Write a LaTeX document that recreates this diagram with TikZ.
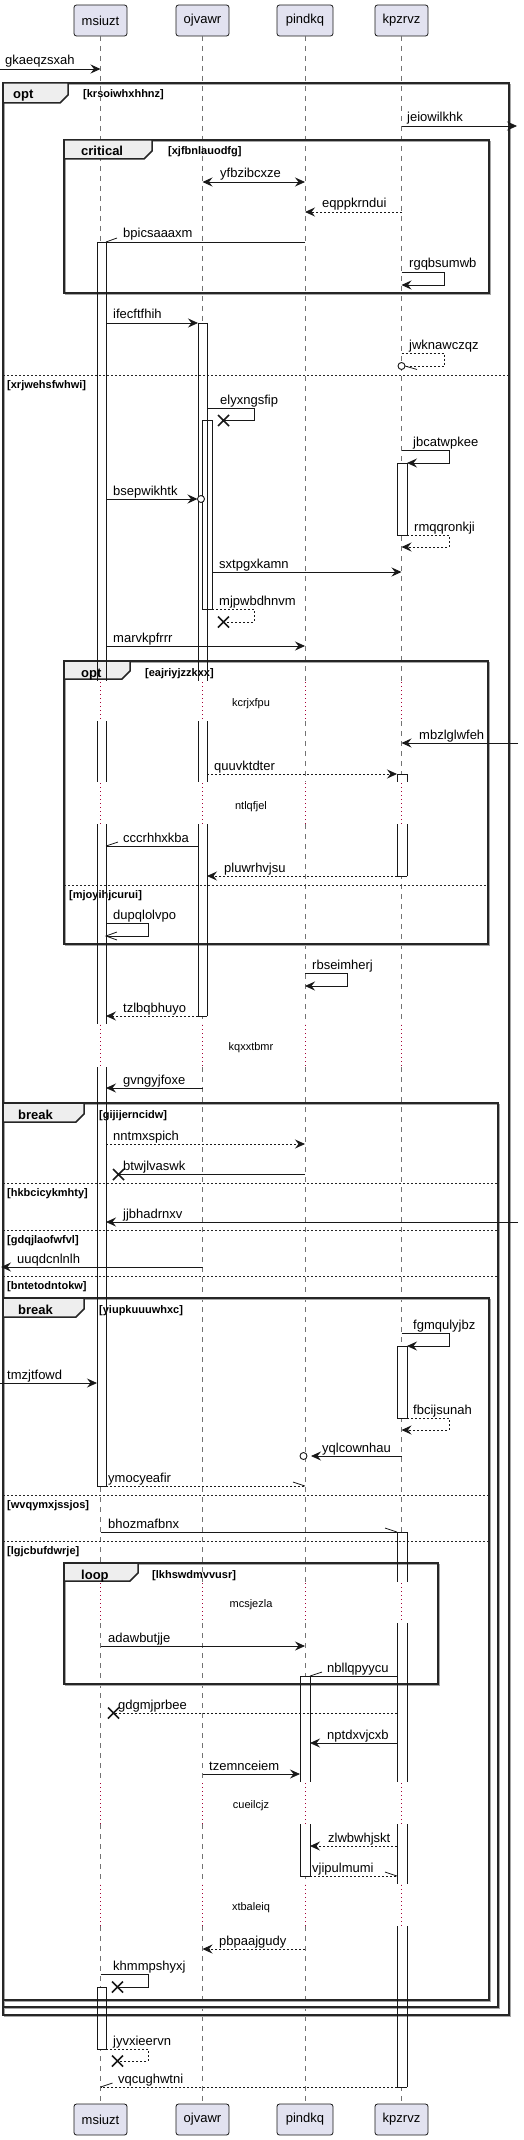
\documentclass[tikz,border=0pt]{standalone}
\usepackage{fontspec}
\setmainfont{Liberation Sans}
\usetikzlibrary{arrows.meta,calc}
\definecolor{lc}{HTML}{181818}
\definecolor{pfill}{HTML}{E2E2F0}
\definecolor{tabf}{HTML}{EEEEEE}
\definecolor{dlyc}{HTML}{A80036}
\newcommand\msgfont{\fontsize{13}{15}\selectfont}
\newcommand\grdfont{\fontsize{11}{13}\selectfont\bfseries}
\newcommand\tabfont{\fontsize{13}{15}\selectfont\bfseries}
\newcommand\dlyfont{\fontsize{11}{13}\selectfont}
\tikzset{
 ln/.style={draw=lc,line width=0.8pt},
 sol/.style={ln,-{Stealth[length=10pt,width=9pt,inset=3.5pt]}},
 das/.style={sol,dash pattern=on 2pt off 2pt},
 bi/.style={ln,{Stealth[length=10pt,width=9pt,inset=3.5pt]}-{Stealth[length=10pt,width=9pt,inset=3.5pt]}},
 pl/.style={ln},
 pld/.style={ln,dash pattern=on 2pt off 2pt},
 lbl/.style={anchor=base west,inner sep=0pt,font=\msgfont,text=black},
 part/.style={draw=lc,fill=pfill,rounded corners=2.5pt,line width=0.8pt,minimum height=31pt,inner sep=0pt,font=\msgfont},
 life/.style={draw=black!55,line width=0.6pt,dash pattern=on 5pt off 5pt},
 dly/.style={draw=dlyc,line width=0.8pt,dash pattern=on 1pt off 3pt},
 frameln/.style={draw=black!85,line width=1.5pt},
 frameshd/.style={draw=black!35,line width=1pt},
 sepln/.style={draw=black!85,line width=0.7pt,dash pattern=on 2pt off 2pt},
 xst/.style={draw=lc,line width=1.6pt},
 circ/.style={circle,draw=lc,fill=white,line width=0.9pt,minimum size=7pt,inner sep=0pt},
 tabl/.style={anchor=base west,inner sep=0pt,font=\tabfont},
 grd/.style={anchor=base west,inner sep=0pt,font=\grdfont},
 dlyt/.style={anchor=base,inner sep=0pt,font=\dlyfont},
}
% activation passes
\newcommand\actfill[6]{\fill[white] (#1,#3) rectangle (#2,#4);}
\newcommand\actlines[6]{\draw[ln] (#1,#3) -- (#1,#4) (#2,#3) -- (#2,#4);%
 \ifnum#5=1\relax\draw[ln] (#1,#3) -- (#2,#3);\fi
 \ifnum#6=1\relax\draw[ln] (#1,#4) -- (#2,#4);\fi}
\newcommand\allacts{%
 \A{97}{106}{242}{681}{1}{0}
 \A{97}{106}{721}{782}{0}{0}
 \A{97}{106}{824}{1024}{0}{0}
 \A{97}{106}{1067}{1486}{0}{1}
 \A{198}{207}{323}{681}{1}{0}
 \A{198}{207}{721}{782}{0}{0}
 \A{198}{207}{824}{1016}{0}{1}
 \A{202}{212}{420}{609}{1}{1}
 \A{397}{407}{463}{535}{1}{1}
 \A{397}{407}{774}{782}{1}{0}
 \A{397}{407}{824}{876}{0}{1}
 \A{397}{407}{1346}{1418}{1}{1}
 \A{397}{407}{1532}{1582}{1}{0}
 \A{397}{407}{1623}{1782}{0}{0}
 \A{397}{407}{1824}{1884}{0}{0}
 \A{397}{407}{1926}{2087}{0}{1}
 \A{300}{310}{1676}{1782}{1}{0}
 \A{300}{310}{1824}{1876}{0}{1}
 \A{97}{106}{1987}{2049}{1}{1}
}
\newcommand\frm[5]{%
 \coordinate (#1nw) at (#2,#3); \coordinate (#1se) at (#4,#5);
 \draw[frameshd] ($(#1nw)+(1.5,1.5)$) rectangle ($(#1se)+(1.5,1.5)$);
 \draw[frameln] (#1nw) rectangle (#1se);}
\newcommand\tabx[9]{%
 \draw[frameln,fill=tabf] (#2,#3) -- (#4,#3) -- (#4,#5-8) -- (#4-8,#5) -- (#2,#5) -- cycle;
 \node[tabl] (#1l) at (#6,#3+16) {#7};
 \node[grd] (#1g) at (#8,#3+15) {#9};}
\newcommand\sepx[6]{%
 \coordinate (#1a) at (#2,#4); \coordinate (#1b) at (#3,#4);
 \draw[sepln] (#1a) -- (#1b);
 \node[grd] (#1t) at (#5,#4+13) {#6};}
\newcommand\msg[7]{%
 \coordinate (#1a) at (#2,#4); \coordinate (#1b) at (#3,#4);
 \draw[#5] (#1a) -- (#1b);
 \node[lbl] (#1t) at (#6,#4-4) {#7};}
\newcommand\selfmsg[9]{%
 \coordinate (#1a) at (#2,#4); \coordinate (#1c) at (#6,#5);
 \draw[#7] (#1a) -- (#3,#4) -- (#3,#5) -- (#1c);
 \node[lbl] (#1t) at (#8,#4-4) {#9};}
\newcommand\xmark[3]{\coordinate (#1) at (#2,#3);
 \draw[xst] ($(#1)+(-5.5,-5.5)$) -- ($(#1)+(5.5,5.5)$) ($(#1)+(-5.5,5.5)$) -- ($(#1)+(5.5,-5.5)$);}

\begin{document}
\begin{tikzpicture}[x=1pt,y=-1pt]
\useasboundingbox (0,0) rectangle (523,2140);

% participants
\node[part,minimum width=53pt] (pm) at (100.5,20.5) {msiuzt};
\node[part,minimum width=53pt] (po) at (202.5,20.5) {ojvawr};
\node[part,minimum width=56pt] (pp) at (305,20.5) {pindkq};
\node[part,minimum width=53pt] (pk) at (401.5,20.5) {kpzrvz};
\node[part,minimum width=53pt] (pm2) at (100.5,2119.5) {msiuzt};
\node[part,minimum width=53pt] (po2) at (202.5,2119.5) {ojvawr};
\node[part,minimum width=56pt] (pp2) at (305,2119.5) {pindkq};
\node[part,minimum width=53pt] (pk2) at (401.5,2119.5) {kpzrvz};

% lifelines
\foreach \x in {100.5,202.5,305,401.5}{
 \foreach \a/\b in {36/681,721/782,824/1024,1067/1582,1623/1782,1824/1884,1926/2104}
  \draw[life] (\x,\a) -- (\x,\b);
 \foreach \a/\b in {682/721,783/824,1025/1067,1583/1623,1783/1824,1885/1926}
  \draw[dly] (\x,\a) -- (\x,\b);
}

% activation fills
\let\A\actfill \allacts

% frames
\frm{fa}{3}{83}{509}{2015}
\tabx{fa}{3}{83}{68}{103}{13}{opt}{83}{[krsoiwhxhhnz]}
\sepx{sa}{3}{509}{375}{7}{[xrjwehsfwhwi]}

\frm{fb}{64}{140}{489}{293}
\tabx{fb}{64}{140}{152}{159}{81}{critical}{168}{[xjfbnlauodfg]}

\frm{fc}{64}{661}{488}{944}
\tabx{fc}{64}{661}{130}{679}{81}{opt}{145}{[eajriyjzzkxx]}
\sepx{sc}{64}{488}{885}{69}{[mjoyihjcurui]}

\frm{fd}{3}{1103}{498}{2007}
\tabx{fd}{3}{1103}{84}{1122}{18}{break}{99}{[gijijerncidw]}
\sepx{sd1}{3}{498}{1183}{7}{[hkbcicykmhty]}
\sepx{sd2}{3}{498}{1230}{7}{[gdqjlaofwfvl]}
\sepx{sd3}{3}{498}{1276}{7}{[bntetodntokw]}

\frm{fe}{3}{1298}{489}{2000}
\tabx{fe}{3}{1298}{84}{1317}{18}{break}{99}{[yiupkuuuwhxc]}
\sepx{se1}{3}{488}{1495}{7}{[wvqymxjssjos]}
\sepx{se2}{3}{488}{1541}{7}{[lgjcbufdwrje]}

\frm{ff}{64}{1563}{438}{1684}
\tabx{ff}{64}{1563}{138}{1581}{81}{loop}{152}{[lkhswdmvvusr]}

% activation outlines
\let\A\actlines \allacts

% messages
\msg{m1}{0}{100.5}{69}{sol}{5}{gkaeqzsxah}
\msg{m2}{401.5}{517}{126}{sol}{407}{jeiowilkhk}
\msg{m3}{202.5}{305}{182}{bi}{220}{yfbzibcxze}
\msg{m4}{401.5}{305}{212}{das}{322}{eqppkrndui}
\msg{m5}{305}{106}{242}{pl}{123}{bpicsaaaxm}
\draw[ln] (m5b) -- ++(11,-4);
\selfmsg{m6}{401.5}{444}{272}{285}{401.5}{sol}{409}{rgqbsumwb}
\msg{m7}{106}{198}{323}{sol}{113}{ifecftfhih}
\selfmsg{m8}{401.5}{444}{353}{366}{405}{pld}{409}{jwknawczqz}
\node[circ] (m8o) at (401.5,366) {};
\draw[ln] (m8c) -- ++(12,3.5);
\selfmsg{m9}{207}{254}{408}{420.5}{223.5}{pl}{220}{elyxngsfip}
\xmark{m9x}{223.5}{420.5}
\selfmsg{m10}{401.5}{449}{450}{463}{407}{sol}{413}{jbcatwpkee}
\msg{m11}{106}{197.5}{499}{sol}{113}{bsepwikhtk}
\node[circ] (m11o) at (201,499) {};
\selfmsg{m12}{407}{449}{535}{547}{401.5}{das}{414}{rmqqronkji}
\msg{m13}{212}{401.5}{572}{sol}{219}{sxtpgxkamn}
\selfmsg{m14}{212}{254}{609}{622}{223.5}{pld}{219}{mjpwbdhnvm}
\xmark{m14x}{223.5}{622}
\msg{m15}{106}{305}{646}{sol}{113}{marvkpfrrr}
\msg{m16}{518}{401.5}{743}{sol}{419}{mbzlglwfeh}
\msg{m17}{207}{397}{774}{das}{214}{quuvktdter}
\msg{m18}{198}{106}{846}{pl}{123}{cccrhhxkba}
\draw[ln] (m18b) -- ++(12,-4);
\msg{m19}{397}{207}{876}{das}{224}{pluwrhvjsu}
\selfmsg{m20}{106}{148}{923}{936}{106}{pl}{113}{dupqlolvpo}
\draw[ln] ($(m20c)+(11,-4)$) -- (m20c) -- ($(m20c)+(11,4)$);
\selfmsg{m21}{305}{347}{973}{986}{305}{sol}{312}{rbseimherj}
\msg{m22}{198}{106}{1016}{das}{123}{tzlbqbhuyo}
\msg{m23}{202.5}{106}{1088}{sol}{123}{gvngyjfoxe}
\msg{m24}{106}{305}{1144}{das}{113}{nntmxspich}
\msg{m25}{305}{118.5}{1174.5}{pl}{123}{btwjlvaswk}
\xmark{m25x}{118.5}{1174.5}
\msg{m26}{518}{106}{1222}{sol}{123}{jjbhadrnxv}
\msg{m27}{202.5}{1}{1267}{sol}{17}{uuqdcnlnlh}
\selfmsg{m28}{401.5}{449}{1333}{1346}{407}{sol}{413}{fgmqulyjbz}
\msg{m29}{0}{97}{1383}{sol}{7}{tmzjtfowd}
\selfmsg{m30}{407}{449}{1418}{1430}{401.5}{das}{413}{fbcijsunah}
\msg{m31}{401.5}{311}{1456}{sol}{322}{yqlcownhau}
\node[circ] (m31o) at (303.5,1456) {};
\msg{m32}{106}{305}{1486}{pld}{108}{ymocyeafir}
\draw[ln] (m32b) -- ++(-12,-4);
\msg{m33}{100.5}{397}{1532}{pl}{108}{bhozmafbnx}
\draw[ln] (m33b) -- ++(-12,-4);
\msg{m34}{100.5}{305}{1646}{sol}{108}{adawbutjje}
\msg{m35}{397}{310}{1676}{pl}{327}{nbllqpyycu}
\draw[ln] (m35b) -- ++(12,-4);
\msg{m36}{397}{113.5}{1713}{pld}{118}{gdgmjprbee}
\xmark{m36x}{113.5}{1713}
\msg{m37}{397}{310}{1743}{sol}{327}{nptdxvjcxb}
\msg{m38}{202.5}{300}{1774}{sol}{209}{tzemnceiem}
\msg{m39}{397}{310}{1846}{das}{328}{zlwbwhjskt}
\msg{m40}{310}{397}{1876}{pld}{312}{vjipulmumi}
\draw[ln] (m40b) -- ++(-12,-4);
\msg{m41}{305}{202.5}{1949}{das}{219}{pbpaajgudy}
\selfmsg{m42}{100.5}{148}{1974}{1987}{117.5}{pl}{113}{khmmpshyxj}
\xmark{m42x}{117.5}{1987}
\selfmsg{m43}{106}{148}{2049}{2061}{117.5}{pld}{113}{jyvxieervn}
\xmark{m43x}{117.5}{2061}
\msg{m44}{397}{100.5}{2087}{pld}{118}{vqcughwtni}
\draw[ln] (m44b) -- ++(12,-4);

% delays
\node[dlyt] (d1) at (251,706) {kcrjxfpu};
\node[dlyt] (d2) at (251,809) {ntlqfjel};
\node[dlyt] (d3) at (251,1050) {kqxxtbmr};
\node[dlyt] (d4) at (251,1607) {mcsjezla};
\node[dlyt] (d5) at (251,1808) {cueilcjz};
\node[dlyt] (d6) at (251,1910) {xtbaleiq};
\end{tikzpicture}
\end{document}
